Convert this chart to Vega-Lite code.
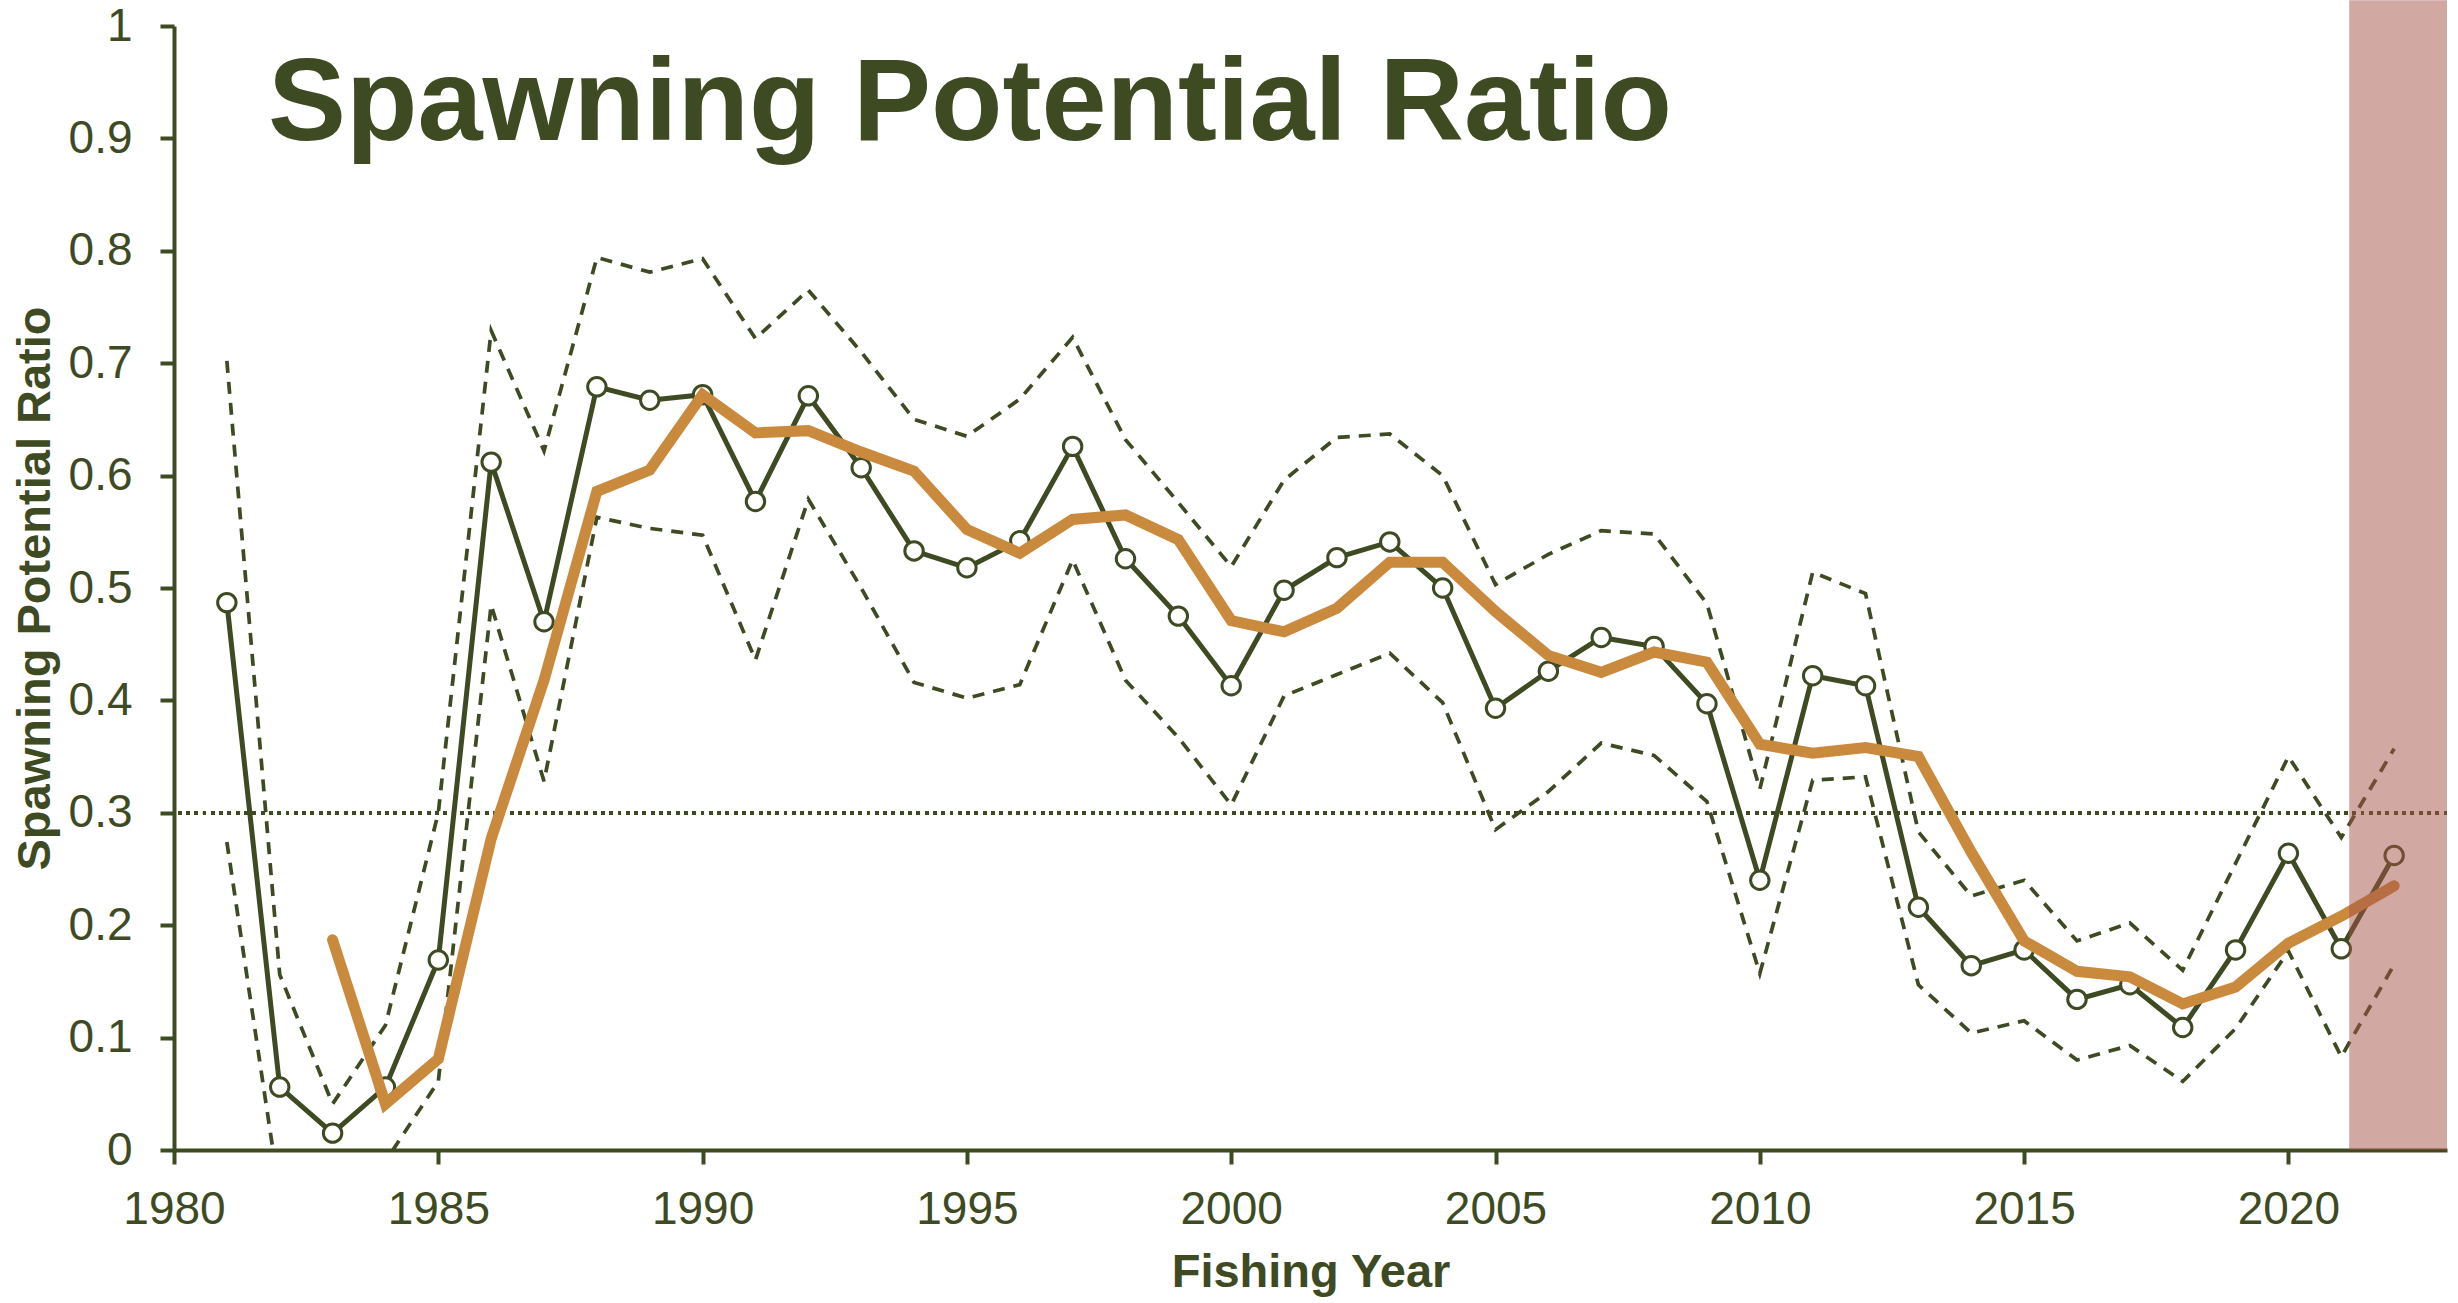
{
  "$schema": "https://vega.github.io/schema/vega-lite/v6.json",
  "autosize": {"type": "none"},
  "padding": {"left": 174, "top": 26, "right": 11, "bottom": 153},
  "width": 2273,
  "height": 1124,
  "background": "white",
  "title": {
    "text": "Spawning Potential Ratio",
    "orient": "top",
    "anchor": "start",
    "frame": "group",
    "baseline": "alphabetic",
    "offset": -132,
    "dx": 94,
    "dy": 125,
    "font": "Liberation Sans",
    "fontSize": 117,
    "fontWeight": "bold",
    "color": "#3e4a22"
  },
  "config": {
    "view": {"stroke": null},
    "font": "Liberation Sans",
    "axis": {
      "grid": false,
      "domainColor": "#3e4a22",
      "domainWidth": 4,
      "tickColor": "#3e4a22",
      "tickWidth": 4,
      "tickSize": 14,
      "labelFont": "Liberation Sans",
      "labelFontSize": 46,
      "labelColor": "#3e4a22",
      "titleFont": "Liberation Sans",
      "titleFontSize": 47,
      "titleFontWeight": "bold",
      "titleColor": "#3e4a22"
    }
  },
  "datasets": {
    "spr": [
      {"year": 1981, "spr": 0.487, "smooth": null, "upper": 0.702, "lower": 0.274},
      {"year": 1982, "spr": 0.056, "smooth": null, "upper": 0.156, "lower": -0.04},
      {"year": 1983, "spr": 0.015, "smooth": 0.187, "upper": 0.041, "lower": -0.06},
      {"year": 1984, "spr": 0.056, "smooth": 0.041, "upper": 0.111, "lower": -0.01},
      {"year": 1985, "spr": 0.169, "smooth": 0.081, "upper": 0.300, "lower": 0.061},
      {"year": 1986, "spr": 0.612, "smooth": 0.277, "upper": 0.729, "lower": 0.485},
      {"year": 1987, "spr": 0.470, "smooth": 0.418, "upper": 0.622, "lower": 0.328},
      {"year": 1988, "spr": 0.679, "smooth": 0.586, "upper": 0.794, "lower": 0.563},
      {"year": 1989, "spr": 0.667, "smooth": 0.605, "upper": 0.781, "lower": 0.553},
      {"year": 1990, "spr": 0.672, "smooth": 0.672, "upper": 0.793, "lower": 0.547},
      {"year": 1991, "spr": 0.577, "smooth": 0.638, "upper": 0.722, "lower": 0.436},
      {"year": 1992, "spr": 0.671, "smooth": 0.640, "upper": 0.765, "lower": 0.579},
      {"year": 1993, "spr": 0.607, "smooth": 0.621, "upper": 0.710, "lower": 0.500},
      {"year": 1994, "spr": 0.533, "smooth": 0.604, "upper": 0.650, "lower": 0.416},
      {"year": 1995, "spr": 0.518, "smooth": 0.552, "upper": 0.635, "lower": 0.402},
      {"year": 1996, "spr": 0.542, "smooth": 0.531, "upper": 0.668, "lower": 0.414},
      {"year": 1997, "spr": 0.626, "smooth": 0.561, "upper": 0.723, "lower": 0.525},
      {"year": 1998, "spr": 0.526, "smooth": 0.565, "upper": 0.632, "lower": 0.418},
      {"year": 1999, "spr": 0.475, "smooth": 0.543, "upper": 0.576, "lower": 0.367},
      {"year": 2000, "spr": 0.413, "smooth": 0.471, "upper": 0.519, "lower": 0.307},
      {"year": 2001, "spr": 0.498, "smooth": 0.461, "upper": 0.596, "lower": 0.404},
      {"year": 2002, "spr": 0.527, "smooth": 0.482, "upper": 0.634, "lower": 0.423},
      {"year": 2003, "spr": 0.541, "smooth": 0.523, "upper": 0.637, "lower": 0.442},
      {"year": 2004, "spr": 0.500, "smooth": 0.523, "upper": 0.600, "lower": 0.398},
      {"year": 2005, "spr": 0.393, "smooth": 0.479, "upper": 0.503, "lower": 0.285},
      {"year": 2006, "spr": 0.426, "smooth": 0.440, "upper": 0.530, "lower": 0.319},
      {"year": 2007, "spr": 0.456, "smooth": 0.425, "upper": 0.551, "lower": 0.362},
      {"year": 2008, "spr": 0.448, "smooth": 0.443, "upper": 0.548, "lower": 0.351},
      {"year": 2009, "spr": 0.397, "smooth": 0.434, "upper": 0.486, "lower": 0.310},
      {"year": 2010, "spr": 0.240, "smooth": 0.361, "upper": 0.321, "lower": 0.157},
      {"year": 2011, "spr": 0.422, "smooth": 0.353, "upper": 0.514, "lower": 0.329},
      {"year": 2012, "spr": 0.413, "smooth": 0.358, "upper": 0.495, "lower": 0.332},
      {"year": 2013, "spr": 0.216, "smooth": 0.350, "upper": 0.283, "lower": 0.147},
      {"year": 2014, "spr": 0.164, "smooth": 0.265, "upper": 0.226, "lower": 0.104},
      {"year": 2015, "spr": 0.178, "smooth": 0.186, "upper": 0.240, "lower": 0.115},
      {"year": 2016, "spr": 0.134, "smooth": 0.159, "upper": 0.186, "lower": 0.080},
      {"year": 2017, "spr": 0.147, "smooth": 0.154, "upper": 0.202, "lower": 0.093},
      {"year": 2018, "spr": 0.109, "smooth": 0.130, "upper": 0.160, "lower": 0.061},
      {"year": 2019, "spr": 0.178, "smooth": 0.145, "upper": 0.255, "lower": 0.108},
      {"year": 2020, "spr": 0.264, "smooth": 0.184, "upper": 0.350, "lower": 0.177},
      {"year": 2021, "spr": 0.179, "smooth": 0.208, "upper": 0.278, "lower": 0.083},
      {"year": 2022, "spr": 0.262, "smooth": 0.235, "upper": 0.357, "lower": 0.165}
    ],
    "band": [
      {"start": 2021.15, "end": 2023}
    ]
  },
  "data": {"name": "spr"},
  "encoding": {
    "x": {
      "field": "year",
      "type": "quantitative",
      "scale": {"domain": [1980, 2023], "nice": false, "zero": false},
      "axis": {
        "title": "Fishing Year",
        "values": [1980, 1985, 1990, 1995, 2000, 2005, 2010, 2015, 2020],
        "format": "d",
        "labelPadding": 23,
        "titlePadding": 17,
        "labelFlush": false,
        "labelOverlap": false
      }
    }
  },
  "layer": [
    {
      "mark": {"type": "rule", "color": "#3e4a22", "strokeWidth": 3.5, "strokeDash": [3, 5.3]},
      "encoding": {
        "x": null,
        "y": {"datum": 0.3, "type": "quantitative", "scale": {"domain": [0, 1], "nice": false}}
      }
    },
    {
      "mark": {"type": "line", "color": "#3e4a22", "strokeWidth": 3.7, "strokeDash": [12, 9]},
      "encoding": {
        "y": {
          "field": "upper",
          "type": "quantitative",
          "scale": {"domain": [0, 1], "nice": false},
          "axis": {
            "title": "Spawning Potential Ratio",
            "values": [0, 0.1, 0.2, 0.3, 0.4, 0.5, 0.6, 0.7, 0.8, 0.9, 1],
            "format": "~g",
            "labelPadding": 28,
            "titlePadding": 9,
            "labelFlush": false,
            "labelOverlap": false
          }
        }
      }
    },
    {
      "mark": {"type": "line", "color": "#3e4a22", "strokeWidth": 3.7, "strokeDash": [12, 9], "clip": true},
      "encoding": {
        "y": {"field": "lower", "type": "quantitative"}
      }
    },
    {
      "mark": {"type": "line", "color": "#3e4a22", "strokeWidth": 5},
      "encoding": {
        "y": {"field": "spr", "type": "quantitative"}
      }
    },
    {
      "mark": {"type": "point", "shape": "circle", "filled": false, "fill": "white", "fillOpacity": 1, "stroke": "#3e4a22", "strokeWidth": 3, "size": 340, "opacity": 1},
      "encoding": {
        "y": {"field": "spr", "type": "quantitative"}
      }
    },
    {
      "transform": [{"filter": "datum.smooth != null"}],
      "mark": {"type": "line", "color": "#c98a3e", "strokeWidth": 11, "strokeCap": "round", "strokeJoin": "miter"},
      "encoding": {
        "y": {"field": "smooth", "type": "quantitative"}
      }
    },
    {
      "data": {"name": "band"},
      "mark": {"type": "rect", "color": "rgb(163,81,69)", "opacity": 0.5},
      "encoding": {
        "x": {"field": "start", "type": "quantitative"},
        "x2": {"field": "end"},
        "y": {"datum": 0, "type": "quantitative"},
        "y2": {"datum": 1.023}
      }
    }
  ]
}
